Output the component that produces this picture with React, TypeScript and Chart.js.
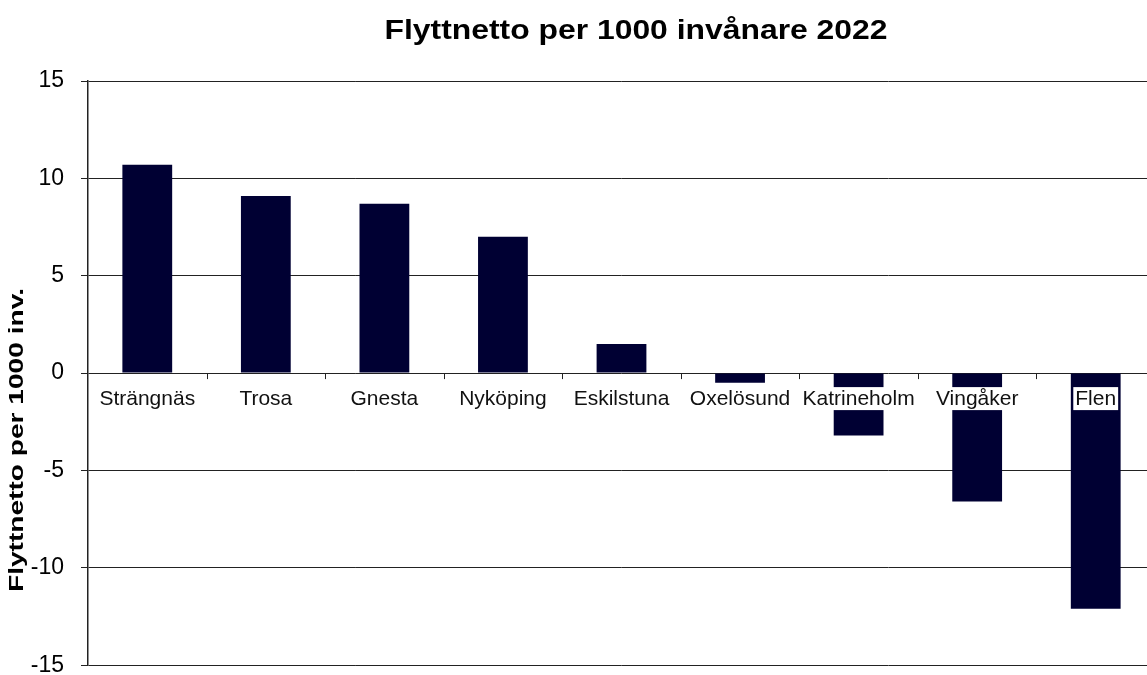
import React, { useEffect, useRef } from "react";
import { Chart, registerables } from "chart.js";

Chart.register(...registerables);

const TITLE = "Flyttnetto per 1000 invånare 2022";
const Y_TITLE = "Flyttnetto per 1000 inv.";
const categories = [
  "Strängnäs",
  "Trosa",
  "Gnesta",
  "Nyköping",
  "Eskilstuna",
  "Oxelösund",
  "Katrineholm",
  "Vingåker",
  "Flen",
];
const values = [10.7, 9.1, 8.7, 7.0, 1.5, -0.5, -3.2, -6.6, -12.1];
const Y_MIN = -15;
const Y_MAX = 15;
const Y_STEP = 5;

const FONT = "'Liberation Sans', Arial, sans-serif";
const BAR_COLOR = "#000033";
const LINE_COLOR = "#222222";

const overlayPlugin = {
  id: "overlay",
  afterDatasetsDraw(chart: any) {
    const { ctx, scales } = chart;
    const x = scales.x;
    const y = scales.y;
    const y0 = y.getPixelForValue(0);
    ctx.save();

    // category boundary tick marks below the zero line
    ctx.strokeStyle = LINE_COLOR;
    ctx.lineWidth = 1;
    for (let i = 1; i < categories.length; i++) {
      const px = Math.round((x.getPixelForValue(i - 1) + x.getPixelForValue(i)) / 2) + 0.5;
      ctx.beginPath();
      ctx.moveTo(px, y0);
      ctx.lineTo(px, y0 + 6);
      ctx.stroke();
    }

    // category labels with white boxes
    ctx.font = `21px ${FONT}`;
    ctx.textAlign = "center";
    ctx.textBaseline = "middle";
    categories.forEach((c, i) => {
      const cx = x.getPixelForValue(i);
      const w = ctx.measureText(c).width;
      const cy = y0 + 26;
      ctx.fillStyle = "#ffffff";
      ctx.fillRect(cx - w / 2 - 2, cy - 12, w + 4, 23);
      ctx.fillStyle = "#111111";
      ctx.fillText(c, cx, cy);
    });

    // title
    ctx.font = `bold 27px ${FONT}`;
    const tw = ctx.measureText(TITLE).width;
    ctx.save();
    ctx.translate(636, 32);
    ctx.scale(503 / tw, 1);
    ctx.fillStyle = "#000000";
    ctx.fillText(TITLE, 0, 0);
    ctx.restore();

    // y axis title
    ctx.font = `bold 21px ${FONT}`;
    const yw = ctx.measureText(Y_TITLE).width;
    ctx.save();
    ctx.translate(17, 440);
    ctx.rotate(-Math.PI / 2);
    ctx.scale(304 / yw, 1);
    ctx.fillStyle = "#000000";
    ctx.fillText(Y_TITLE, 0, 0);
    ctx.restore();

    ctx.restore();
  },
};

export default function App() {
  const ref = useRef<HTMLCanvasElement | null>(null);

  useEffect(() => {
    document.body.style.overflow = "hidden";
    const canvas = ref.current;
    if (!canvas) return;
    const chart = new Chart(canvas, {
      type: "bar",
      data: {
        labels: categories,
        datasets: [
          {
            data: values,
            backgroundColor: BAR_COLOR,
            borderWidth: 0,
            barPercentage: 0.42,
            categoryPercentage: 1.0,
          },
        ],
      },
      options: {
        animation: false,
        responsive: false,
        devicePixelRatio: 1,
        layout: { padding: { top: 81, bottom: 25, left: 0, right: 5 } },
        plugins: {
          legend: { display: false },
          title: { display: false },
          tooltip: { enabled: false },
        },
        scales: {
          x: { display: false },
          y: {
            min: Y_MIN,
            max: Y_MAX,
            ticks: {
              stepSize: Y_STEP,
              color: "#000000",
              padding: 17,
              font: { family: FONT, size: 23 },
            },
            grid: {
              color: LINE_COLOR,
              lineWidth: 1,
              drawTicks: true,
              tickLength: 7,
            },
            border: { display: true, color: LINE_COLOR, width: 1.5 },
            afterFit(scale: any) {
              scale.width = 88;
            },
          },
        },
      },
      plugins: [overlayPlugin],
    });
    return () => chart.destroy();
  }, []);

  return (
    <canvas
      ref={ref}
      width={1160}
      height={696}
      style={{ position: "fixed", left: 0, top: 0, width: 1160, height: 696 }}
    />
  );
}
